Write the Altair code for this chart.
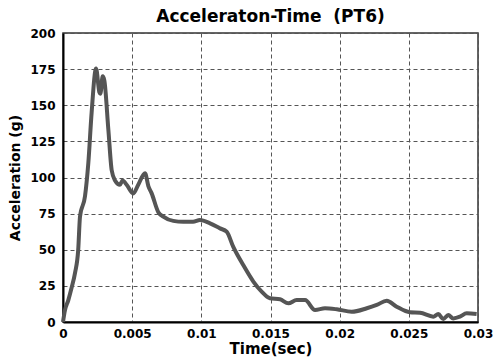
import altair as alt
import pandas as pd

time_s = [0, 0.00014, 0.00038, 0.00063, 0.00087, 0.0011, 0.00123, 0.00159, 0.00183, 0.00207,
          0.00239, 0.00263, 0.0027, 0.00287, 0.00299, 0.00328, 0.00352, 0.00376, 0.00412, 0.00431,
          0.0046, 0.00508, 0.00544, 0.00593, 0.00617, 0.00641, 0.00689, 0.00725, 0.00797, 0.0087,
          0.0094, 0.0099, 0.01063, 0.01135, 0.01183, 0.01231, 0.01303, 0.01376, 0.01436, 0.01496,
          0.01569, 0.01629, 0.01689, 0.0175, 0.01822, 0.01894, 0.01979, 0.02087, 0.02196, 0.02268,
          0.0234, 0.02412, 0.02508, 0.02581, 0.02677, 0.02713, 0.02749, 0.02785, 0.02821, 0.0287,
          0.02918, 0.0299]
accel_g = [0, 8, 15, 24, 34, 50, 73, 87, 110, 145,
           175.5, 159, 158, 170, 167, 133, 105, 98, 95, 98,
           95, 89, 95, 103, 94, 89, 76, 73, 70, 69.4,
           69.4, 70.6, 68.3, 64.8, 62.5, 52, 39.4, 28, 21, 16.4,
           15.7, 12.9, 15.2, 15.2, 8.3, 9.5, 8.8, 7.1, 9.5, 11.8,
           14.7, 10.6, 6.7, 6.4, 3.7, 5.5, 2.1, 4.8, 2.5, 3.7,
           6, 5.5]

df = pd.DataFrame({"t": time_s, "a": accel_g})

FONT = "DejaVu Sans"

chart = alt.Chart(df).mark_line(color="#555555", strokeWidth=4, interpolate="monotone").encode(
    x=alt.X("t:Q", scale=alt.Scale(domain=[0, 0.03], nice=False),
            axis=alt.Axis(values=[0, 0.005, 0.01, 0.015, 0.02, 0.025, 0.03],
                          title="Time(sec)", format="~g", labelFlush=False)),
    y=alt.Y("a:Q", scale=alt.Scale(domain=[0, 200], nice=False),
            axis=alt.Axis(values=[0, 25, 50, 75, 100, 125, 150, 175, 200],
                          title="Acceleration (g)")),
).properties(
    width=415, height=289,
    title=alt.TitleParams("Acceleraton-Time\u00a0\u00a0(PT6)", fontSize=17, font=FONT,
                          fontWeight="bold", color="black", offset=1),
    autosize=alt.AutoSizeParams(type="none"),
    padding={"left": 63, "top": 33, "right": 16, "bottom": 42},
).configure_view(
    stroke="#333333", strokeWidth=1.5
).configure_axis(
    grid=True, gridColor="#555555", gridDash=[4, 3], gridWidth=1,
    ticks=False, domainColor="black", domainWidth=2,
    labelFont=FONT, labelFontSize=12, labelFontWeight="bold", labelColor="black",
    titleFont=FONT, titleFontWeight="bold", titleColor="black",
).configure_axisX(
    labelPadding=6, titleFontSize=15, titlePadding=2,
).configure_axisY(
    labelPadding=8, titleFontSize=14, titlePadding=7,
)

chart.save("out.html", embed_options={"renderer": "svg", "actions": False})
